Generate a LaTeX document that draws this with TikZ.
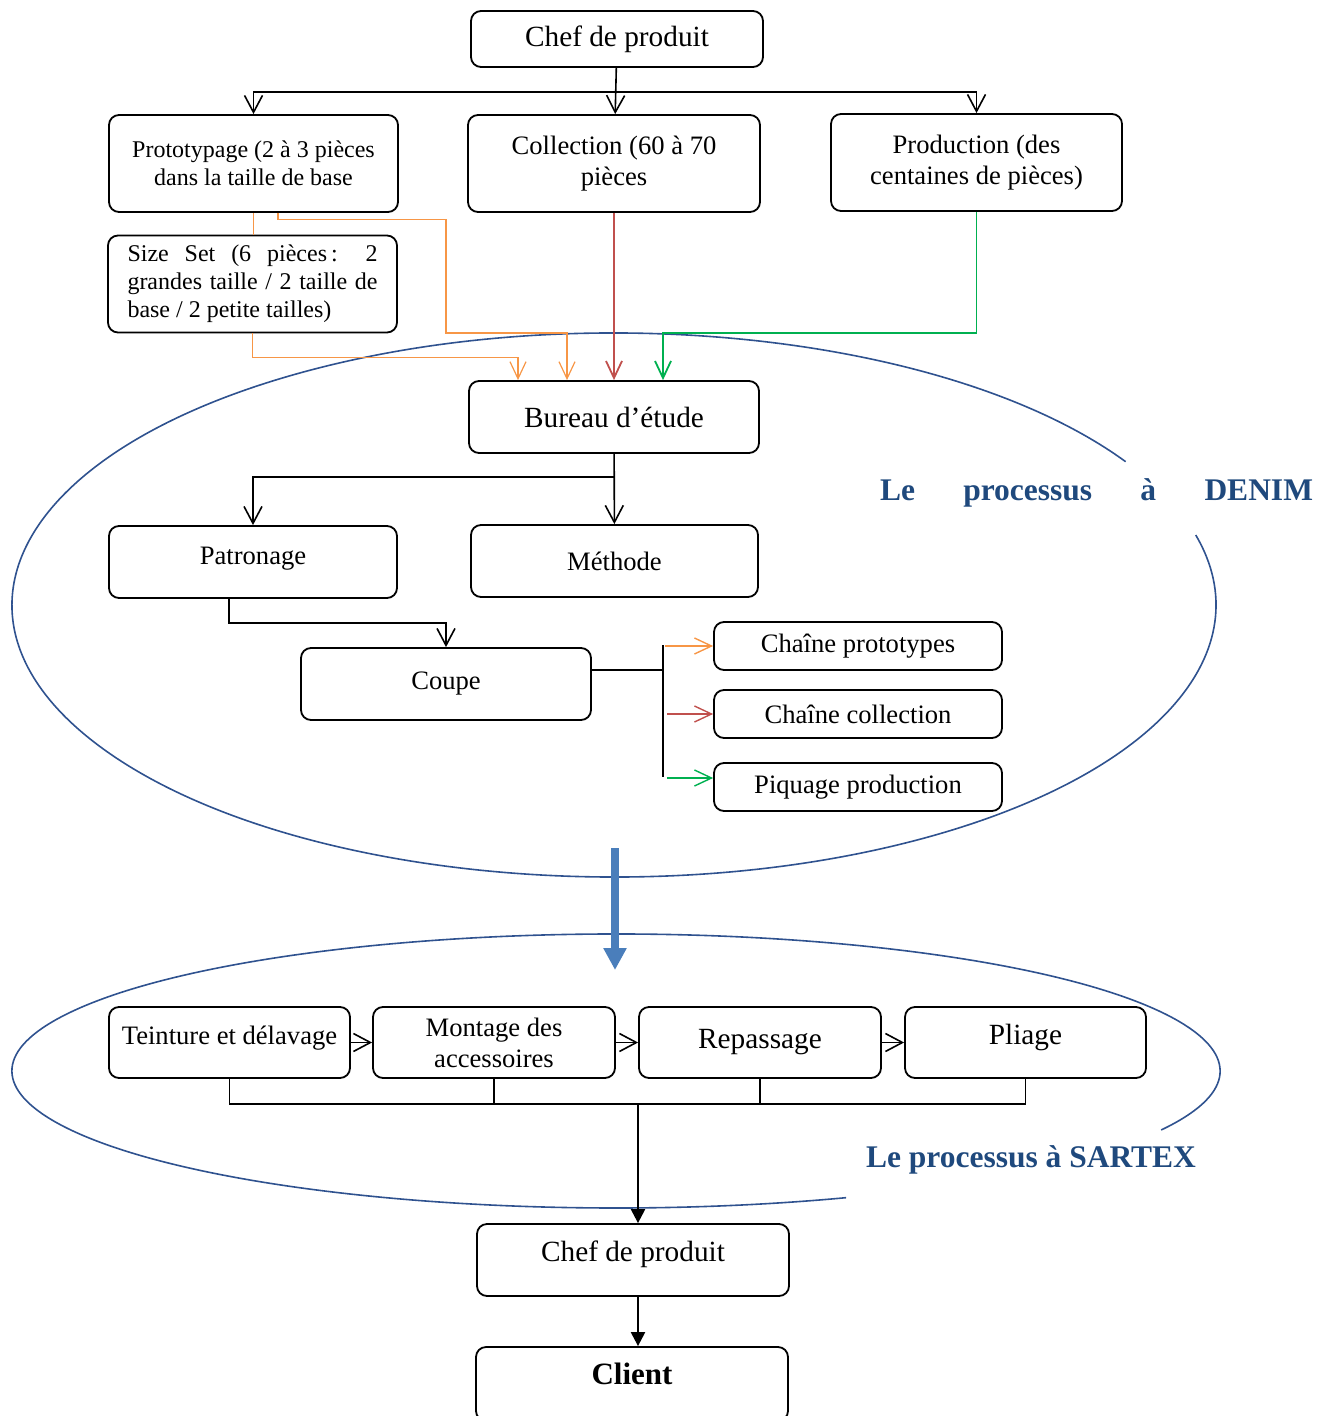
\documentclass[tikz,border=0pt]{standalone}
\usepackage{fontspec}
\setmainfont{Liberation Serif}
\usepackage{tikz}
\usetikzlibrary{arrows.meta, positioning, calc}
\definecolor{procblue}{RGB}{31,73,125}
\definecolor{ellblue}{RGB}{47,82,143}
\definecolor{arrowblue}{RGB}{74,126,187}
\definecolor{protoorange}{RGB}{247,150,70}
\definecolor{collred}{RGB}{192,80,77}
\definecolor{prodgreen}{RGB}{0,176,80}
\tikzstyle{stage} = [
    rectangle,
    rounded corners=5pt,
    draw=black,
    line width=0.9pt,
    fill=white,
    align=center,
    inner sep=2pt,
    font=\fontsize{13.3}{15.5}\selectfont
]
\tikzstyle{bigstage} = [stage, font=\fontsize{14.65}{17}\selectfont]
\tikzstyle{smallstage} = [stage, font=\fontsize{12}{14}\selectfont]
\tikzstyle{flow} = [
    -{Straight Barb[length=8.5pt,width=9pt]},
    line width=0.8pt,
    draw=black
]
\tikzstyle{feed} = [
    -{Straight Barb[length=8.5pt,width=8pt]},
    line width=0.7pt
]
\tikzstyle{link} = [line width=0.6pt]
\tikzstyle{solidflow} = [
    -{Triangle[length=7pt,width=7pt]},
    line width=1.1pt,
    draw=black
]
\tikzstyle{outline} = [draw=ellblue, line width=0.8pt]
\tikzstyle{proclabel} = [
    text=procblue,
    font=\fontsize{15.75}{18}\selectfont\bfseries
]

\begin{document}
\begin{tikzpicture}[x=0.5pt, y=-0.5pt]
    \useasboundingbox (0,0) rectangle (1333,1416);

    % Process outlines
    \coordinate (denimC) at (614,605);
    \coordinate (sartexC) at (616,1071);
    \draw[outline] (denimC) ++(31.8:301pt and 136pt)
        arc[start angle=31.8, end angle=374.9, x radius=301pt, y radius=136pt];
    \draw[outline] (sartexC) ++(-25.5:302pt and 68.5pt)
        arc[start angle=-25.5, end angle=292.4, x radius=302pt, y radius=68.5pt];
    \node[proclabel] (denimlbl) at (1096.5,493) {\makebox[216.5pt][s]{Le processus à DENIM}};
    \node[proclabel] (sartexlbl) at (1031,1160) {Le processus à SARTEX};

    % Product manager
    \node[bigstage, minimum width=146pt, minimum height=28pt] (chefA) at (617,39) {Chef de produit};

    % Order types
    \node[smallstage, minimum width=144.5pt, minimum height=48.5pt] (proto) at (253.5,163.5) {Prototypage (2 à 3 pièces\\dans la taille de base};
    \node[stage, minimum width=146pt, minimum height=48.5pt] (coll) at (614,163.5) {Collection (60 à 70\\pièces};
    \node[stage, minimum width=145.5pt, minimum height=48.5pt] (prod) at (976.5,162.5) {Production (des\\centaines de pièces)};
    \node[smallstage, minimum width=144.5pt, minimum height=48.5pt, text width=125pt, align=justify] (size) at (252.5,284) {Size Set (6 pièces\,: 2 grandes taille / 2 taille de base / 2 petite tailles)};

    % DENIM
    \node[bigstage, minimum width=145pt, minimum height=36pt] (bureau) at (614,417) {Bureau d’étude};
    \node[stage, minimum width=144pt, minimum height=36pt, text depth=6pt] (patron) at (253,562) {Patronage};
    \node[stage, minimum width=143.5pt, minimum height=36pt] (methode) at (614.5,561) {Méthode};
    \node[stage, minimum width=145pt, minimum height=36pt] (coupe) at (446,684) {Coupe};
    \node[stage, minimum width=144pt, minimum height=24pt] (cproto) at (858,646) {Chaîne prototypes};
    \node[stage, minimum width=144pt, minimum height=24pt] (ccoll) at (858,714) {Chaîne collection};
    \node[stage, minimum width=144pt, minimum height=24pt] (piquage) at (858,787) {Piquage production};

    % SARTEX
    \node[stage, minimum width=120.5pt, minimum height=35.5pt, text depth=7pt] (teint) at (229.5,1042.5) {Teinture et délavage};
    \node[stage, minimum width=121pt, minimum height=35.5pt] (montage) at (494,1042.5) {Montage des\\accessoires};
    \node[bigstage, minimum width=121pt, minimum height=35.5pt] (repass) at (760,1042.5) {Repassage};
    \node[bigstage, minimum width=120.5pt, minimum height=35.5pt, text depth=8pt] (pliage) at (1025.5,1042.5) {Pliage};

    % Delivery
    \node[bigstage, minimum width=156pt, minimum height=36pt, text depth=9pt] (chefB) at (633,1260) {Chef de produit};
    \node[stage, minimum width=156pt, minimum height=37pt, text depth=10pt, font=\fontsize{15.5}{18}\selectfont\bfseries] (client) at (632,1384) {Client};

    % Arrows
    \coordinate (hub1) at (615,92);
    \draw[flow] (chefA) -- (coll);
    \draw[flow] (hub1) -| (proto.north);
    \draw[flow] (hub1) -| (prod.north);

    \draw[link, protoorange] (proto.south) -- (proto.south |- size.north);
    \draw[feed, protoorange, line width=0.6pt] (proto.south -| 278,0) -- ++(0,7) -| (446,333) -| (bureau.north -| 567,0);
    \draw[feed, protoorange, line width=0.6pt] (size.south) -- ++(0,24) -| (bureau.north -| 518,0);
    \draw[feed, collred, line width=0.9pt] (coll) -- (bureau);
    \draw[feed, prodgreen, line width=0.9pt] (prod.south) -- ++(0,121) -| (bureau.north -| 663,0);

    \coordinate (hub2) at (615,477);
    \draw[flow] (bureau) -- (methode);
    \draw[flow] (bureau.south |- hub2) -| (patron.north);
    \draw[flow] (patron.south -| 229,0) -- ++(0,24) -| (coupe.north);

    \coordinate (fanTop) at (663,645);
    \coordinate (fanMid) at (663,670);
    \coordinate (fanBot) at (663,777);
    \draw[link] (coupe.east |- fanMid) -- (fanMid);
    \draw[link] (fanTop) -- (fanBot);
    \draw[feed, protoorange] (cproto.west -| 665,0) -- (cproto.west);
    \draw[feed, collred] (ccoll.west -| 667,0) -- (ccoll.west);
    \draw[feed, prodgreen] (667,778) -- (piquage.west |- 0,778);

    \coordinate (bigTop) at (615,848);
    \coordinate (bigTip) at (615,970);
    \draw[draw=arrowblue, line width=4pt, -{Triangle[length=11pt,width=11pt]}] (bigTop) -- (bigTip);

    \draw[flow] (teint) -- (montage);
    \draw[flow] (montage) -- (repass);
    \draw[flow] (repass) -- (pliage);

    \coordinate (bus) at (638,1104);
    \draw[link] (teint.south) |- (bus);
    \draw[link] (pliage.south) |- (bus);
    \draw[link] (montage.south) -- (montage.south |- bus);
    \draw[link] (repass.south) -- (repass.south |- bus);
    \draw[solidflow] (bus) -- (bus |- chefB.north);
    \draw[solidflow] (chefB.south -| bus) -- (client.north -| bus);
\end{tikzpicture}
\end{document}
